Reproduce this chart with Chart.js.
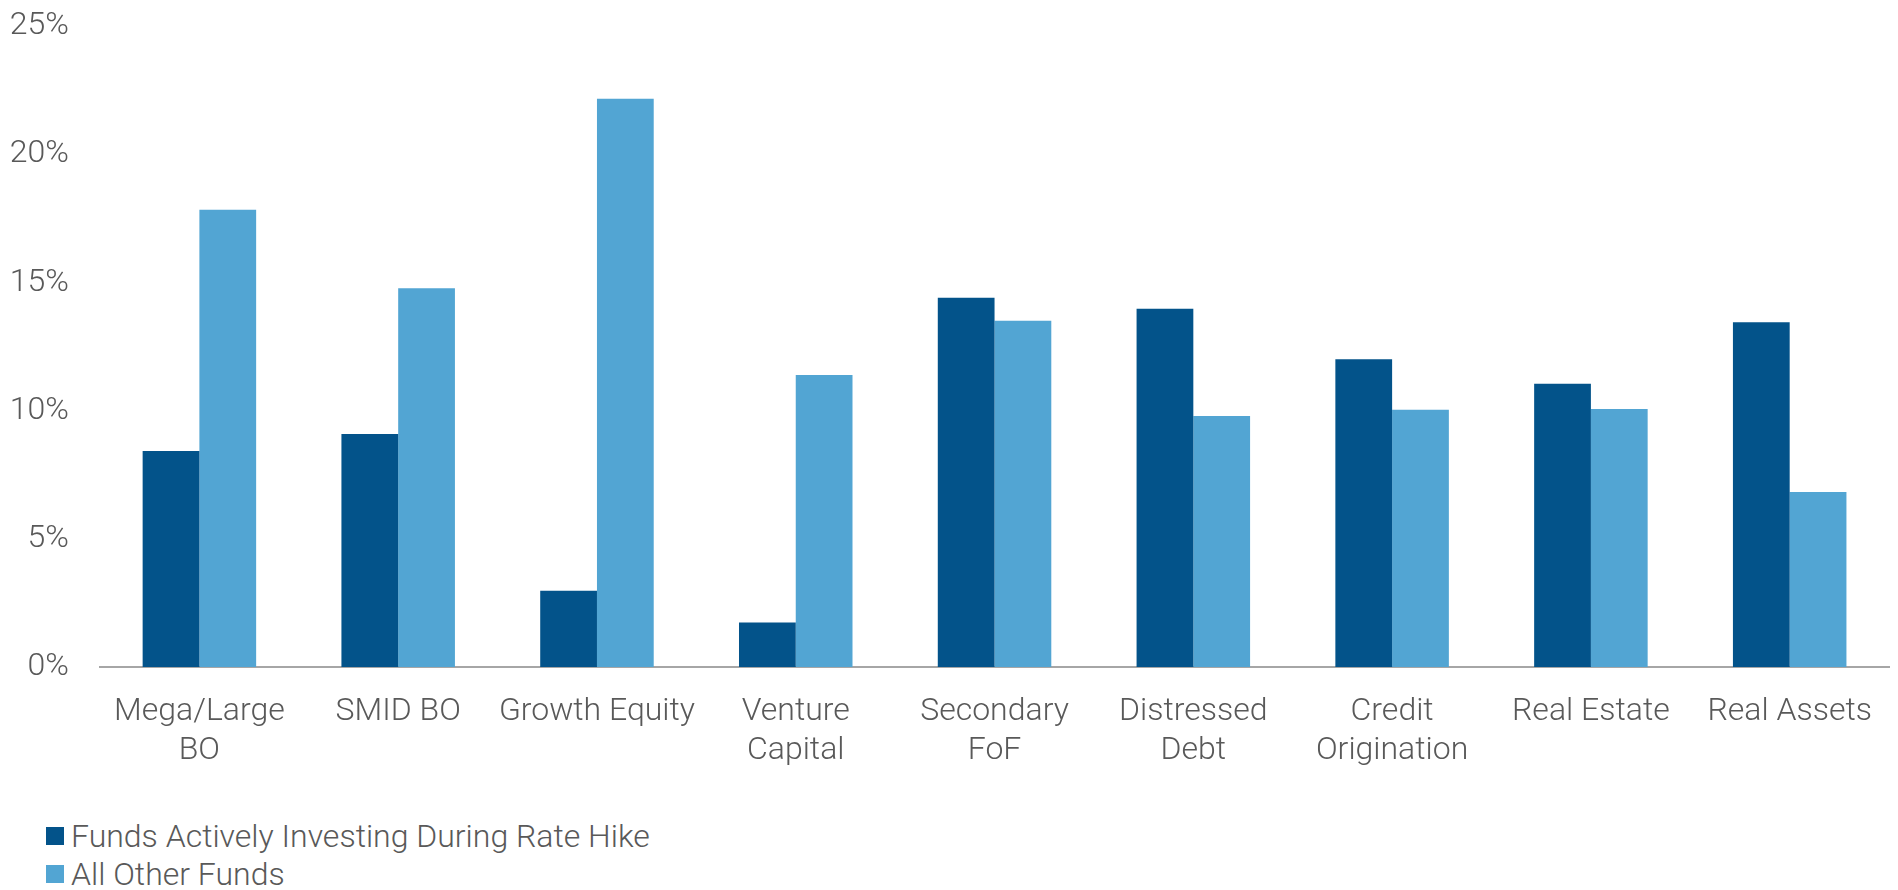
<!DOCTYPE html>
<html>
<head>
<meta charset="utf-8">
<script src="https://cdn.jsdelivr.net/npm/chart.js@4/dist/chart.umd.min.js"></script>
<style>
html,body{margin:0;padding:0;background:#fff;width:1898px;height:890px;overflow:hidden}
#wrap{position:absolute;left:0;top:-24px;width:1898px;height:814px}
#legend{position:absolute;left:46px;top:817px;font-family:Roboto,sans-serif;font-weight:300;font-size:32px;color:#595959}
.item{display:flex;align-items:center;height:38px;white-space:nowrap}
.box{width:18px;height:18px;margin-right:7px}
</style>
</head>
<body>
<div id="wrap"><canvas id="chart"></canvas></div>
<div id="legend"></div>
<script>
const categories=[["Mega/Large","BO"],"SMID BO","Growth Equity",["Venture","Capital"],["Secondary","FoF"],["Distressed","Debt"],["Credit","Origination"],"Real Estate","Real Assets"];
const activeFunds=[8.43,9.09,2.97,1.74,14.41,13.98,12.01,11.05,13.45];
const otherFunds=[17.84,14.78,22.17,11.39,13.51,9.79,10.04,10.07,6.83];
const seriesNames=["Funds Actively Investing During Rate Hike","All Other Funds"];
const seriesColors=["#03538A","#52A5D3"];
const yTicks=[0,5,10,15,20,25];

const txt="#595959";
Chart.defaults.font.family='Roboto,sans-serif';
Chart.defaults.font.weight=300;
Chart.defaults.color=txt;

const chart=new Chart(document.getElementById("chart"),{
  type:"bar",
  data:{labels:categories,datasets:[
    {label:seriesNames[0],data:activeFunds,backgroundColor:seriesColors[0]},
    {label:seriesNames[1],data:otherFunds,backgroundColor:seriesColors[1]}
  ]},
  options:{
    responsive:true,maintainAspectRatio:false,animation:false,
    layout:{padding:{top:0,right:1,left:0,bottom:0}},
    plugins:{legend:{display:false},tooltip:{enabled:false}},
    datasets:{bar:{categoryPercentage:0.571,barPercentage:1}},
    scales:{
      x:{
        grid:{display:false,drawTicks:false},
        border:{display:true,color:"#A6A6A6",width:2},
        ticks:{font:{size:32,weight:300,lineHeight:1.2},color:txt,maxRotation:0,autoSkip:false,padding:26},
        afterFit:s=>{s.height=123}
      },
      y:{
        min:0,max:25,
        grid:{display:false,drawTicks:false},
        border:{display:false},
        afterBuildTicks:s=>{s.ticks=yTicks.map(v=>({value:v}))},
        ticks:{font:{size:32,weight:300},color:txt,padding:31,callback:v=>v+"%"},
        afterFit:s=>{s.width=100}
      }
    }
  }
});

const lg=document.getElementById("legend");
chart.data.datasets.forEach(d=>{
  const it=document.createElement("div");it.className="item";
  const b=document.createElement("span");b.className="box";b.style.background=d.backgroundColor;
  const t=document.createElement("span");t.textContent=d.label;
  it.appendChild(b);it.appendChild(t);lg.appendChild(it);
});
</script>
</body>
</html>
